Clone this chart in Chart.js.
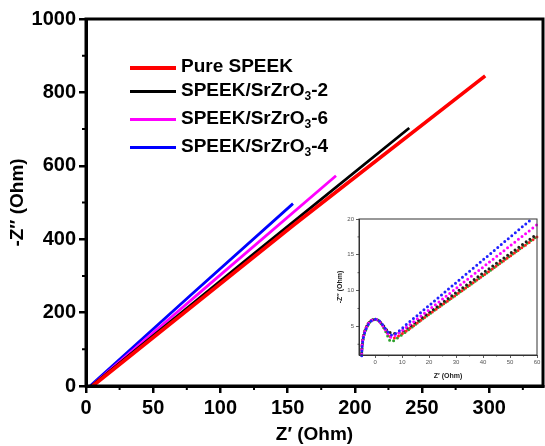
<!DOCTYPE html>
<html>
<head>
<meta charset="utf-8">
<script src="https://cdn.jsdelivr.net/npm/chart.js@4"></script>
<style>
  body { margin: 0; background: #fff; }
  #wrap { position: relative; width: 545px; height: 446px; font-family: "Liberation Sans", Arial, sans-serif; }
  #main { position: absolute; left: 0; top: 0; }
  #inset { position: absolute; left: 330px; top: 205px; }
  .leg { position: absolute; left: 130px; font-weight: bold; font-size: 19px; color: #000; white-space: nowrap; }
  .leg span.ln { position: absolute; left: 0; width: 46px; height: 3px; }
  .leg span.tx { position: absolute; left: 51px; top: -11px; }
  sub { font-size: 12px; vertical-align: -4px; line-height: 0; }
</style>
</head>
<body>
<div id="wrap">
  <canvas id="main" width="545" height="446"></canvas>
  <canvas id="inset" width="215" height="175"></canvas>
  <div id="legend"></div>
</div>
<script>
// series names and colours
const seriesNames = ['Pure SPEEK', 'SPEEK/SrZrO<sub>3</sub>-2', 'SPEEK/SrZrO<sub>3</sub>-6', 'SPEEK/SrZrO<sub>3</sub>-4'];
const seriesPlain = ['Pure SPEEK', 'SPEEK/SrZrO3-2', 'SPEEK/SrZrO3-6', 'SPEEK/SrZrO3-4'];
const seriesColors = ['#ff0000', '#000000', '#ff00ff', '#0000ff'];

// main plot: Z' vs -Z'' (Ohm)
const pureSpeek = [[5, 0], [155, 440], [297, 845]];
const speek2 = [[4, 0], [122, 352], [240.5, 703]];
const speek6 = [[4, 0], [95, 287], [186, 573]];
const speek4 = [[3, 0], [78, 248], [154, 497]];

const xTicks = [0, 50, 100, 150, 200, 250, 300];
const xMinor = [25, 75, 125, 175, 225, 275, 325];
const yTicks = [0, 200, 400, 600, 800, 1000];
const yMinor = [100, 300, 500, 700, 900];

// inset: zoom on the high-frequency arc
const insetRed = [[-5, 1], [-4.9, 2.4], [-4.3, 3.8], [-3.3, 4.9], [-2.2, 5.6], [-1, 5.95], [0, 6], [1.2, 5.8], [2.4, 5.3], [3.5, 4.7], [4.5, 4.1], [5.5, 3.6], [7.5, 3.4], [20, 6.7], [40, 12.1], [60, 17.5]];
const insetBlack = [[-5, 1.2], [-4.8, 2.5], [-4.2, 3.9], [-3.2, 5], [-2.1, 5.6], [-1, 5.9], [0, 6], [1.2, 5.8], [2.4, 5.4], [3.5, 4.9], [4.5, 4.4], [5.8, 4.1], [7, 4.0], [10, 4.3], [35, 11.1], [60, 17.9]];
const insetMagenta = [[-5, 1.1], [-4.8, 2.5], [-4.2, 3.8], [-3.2, 4.9], [-2.1, 5.6], [-1, 5.9], [0, 6], [1.2, 5.8], [2.4, 5.3], [3.5, 4.7], [4.5, 4.1], [6, 3.5], [12, 5.0], [36, 12.1], [60, 19.2]];
const insetBlue = [[-5, 0.9], [-4.8, 2.3], [-4.2, 3.7], [-3.2, 4.8], [-2.1, 5.5], [-1, 5.9], [0.3, 6], [1.4, 5.8], [2.6, 5.3], [3.7, 4.7], [4.8, 4.2], [6.5, 3.8], [12, 5.4], [35, 12.7], [58, 20]];
const insetGreen = [[-5, 1.3], [-4.7, 2.6], [-4, 3.9], [-3, 4.9], [-2, 5.6], [-0.8, 5.9], [0.2, 5.95], [1.3, 5.8], [2.5, 5.2], [3.6, 4.5], [4.7, 3.6], [5.8, 2.9], [8, 3.3], [20, 6.7], [40, 12.1], [60, 17.6]];
const insetXTicks = [0, 10, 20, 30, 40, 50, 60];
const insetYTicks = [5, 10, 15, 20];

const pts = arr => arr.map(p => ({ x: p[0], y: p[1] }));

// legend with subscripts
const legRows = [67, 91, 119, 147];
document.getElementById('legend').innerHTML = seriesNames.map((n, i) =>
  '<div class="leg" style="top:' + (legRows[i] - 1) + 'px"><span class="ln" style="background:' + seriesColors[i] + ';height:' + (i === 0 ? 4 : 3) + 'px"></span><span class="tx">' + n + '</span></div>'
).join('');

const framePlugin = {
  id: 'frame',
  afterDatasetsDraw(chart, args, opts) {
    const a = chart.chartArea, ctx = chart.ctx;
    ctx.save();
    ctx.strokeStyle = opts.color;
    ctx.lineWidth = opts.width;
    ctx.strokeRect(a.left, a.top, a.right - a.left, a.bottom - a.top);
    // minor ticks
    const xs = chart.scales.x, ys = chart.scales.y;
    ctx.lineWidth = opts.minorWidth;
    ctx.beginPath();
    (opts.xMinor || []).forEach(v => {
      const px = xs.getPixelForValue(v);
      ctx.moveTo(px, a.bottom); ctx.lineTo(px, a.bottom + opts.minorLen);
    });
    (opts.yMinor || []).forEach(v => {
      const py = ys.getPixelForValue(v);
      ctx.moveTo(a.left, py); ctx.lineTo(a.left - opts.minorLen, py);
    });
    ctx.stroke();
    ctx.restore();
  }
};

const plain = v => String(v);

const mainSets = [pureSpeek, speek2, speek6, speek4];
new Chart(document.getElementById('main'), {
  type: 'scatter',
  data: {
    datasets: mainSets.map((d, i) => ({
      label: seriesPlain[i],
      data: pts(d),
      showLine: true,
      borderColor: seriesColors[i],
      backgroundColor: seriesColors[i],
      borderWidth: i === 0 ? 3.6 : 2.8,
      pointRadius: 0,
      tension: 0
    }))
  },
  options: {
    responsive: false,
    animation: false,
    events: [],
    layout: { padding: { left: 0, top: 19, right: 2, bottom: 0 } },
    plugins: {
      legend: { display: false },
      tooltip: { enabled: false },
      frame: { color: '#000', width: 3, minorWidth: 2, minorLen: 4, xMinor: xMinor, yMinor: yMinor }
    },
    scales: {
      x: {
        type: 'linear', min: 0, max: 340,
        afterBuildTicks: s => { s.ticks = xTicks.map(v => ({ value: v })); },
        afterFit: s => { s.height = 60; },
        grid: { display: true, drawOnChartArea: false, color: '#000', lineWidth: 2.5, tickLength: 7 },
        border: { display: true, color: '#000', width: 3 },
        ticks: { color: '#000', font: { family: 'Liberation Sans', size: 20, weight: 'bold' }, padding: 3, maxRotation: 0, callback: plain },
        title: { display: true, text: 'Z\u2032 (Ohm)', color: '#000', font: { family: 'Liberation Sans', size: 19, weight: 'bold' }, padding: { top: 3, bottom: 0 } }
      },
      y: {
        type: 'linear', min: 0, max: 1000,
        afterBuildTicks: s => { s.ticks = yTicks.map(v => ({ value: v })); },
        afterFit: s => { s.width = 86; },
        grid: { display: true, drawOnChartArea: false, color: '#000', lineWidth: 2.5, tickLength: 7 },
        border: { display: true, color: '#000', width: 3 },
        ticks: { color: '#000', font: { family: 'Liberation Sans', size: 20, weight: 'bold' }, padding: 3, callback: plain },
        title: { display: true, text: '-Z\u2033 (Ohm)', color: '#000', font: { family: 'Liberation Sans', size: 19, weight: 'bold' }, padding: { top: 6, bottom: 4 } }
      }
    }
  },
  plugins: [framePlugin]
});

const insetSets = [insetGreen, insetRed, insetBlack, insetMagenta, insetBlue];
const insetColors = ['#2ca02c', '#ff2020', '#202020', '#ff00ff', '#2020ff'];
new Chart(document.getElementById('inset'), {
  type: 'scatter',
  data: {
    datasets: insetSets.map((d, i) => ({
      data: pts(d),
      showLine: true,
      borderColor: insetColors[i],
      borderWidth: 3,
      borderDash: [0, 4.6],
      borderCapStyle: 'round',
      pointRadius: 0,
      tension: 0.35,
      order: insetSets.length - i
    }))
  },
  options: {
    responsive: false,
    animation: false,
    events: [],
    clip: false,
    layout: { padding: { left: 0, top: 14, right: 8, bottom: 0 } },
    plugins: {
      legend: { display: false },
      tooltip: { enabled: false },
      frame: { color: '#333', width: 1, minorWidth: 0.8, minorLen: 1.5, xMinor: [5, 15, 25, 35, 45, 55], yMinor: [2.5, 7.5, 12.5, 17.5] }
    },
    scales: {
      x: {
        type: 'linear', min: -6, max: 60,
        afterBuildTicks: s => { s.ticks = insetXTicks.map(v => ({ value: v })); },
        afterFit: s => { s.height = 25; },
        grid: { display: true, drawOnChartArea: false, color: '#333', lineWidth: 0.8, tickLength: 3 },
        border: { display: true, color: '#333', width: 1 },
        ticks: { color: '#555', font: { family: 'Liberation Sans', size: 6 }, padding: 1, maxRotation: 0 },
        title: { display: true, text: 'Z\u2032 (Ohm)', color: '#222', font: { family: 'Liberation Sans', size: 7, weight: 'bold' }, padding: { top: 1, bottom: 0 } }
      },
      y: {
        type: 'linear', min: 1, max: 20,
        afterBuildTicks: s => { s.ticks = insetYTicks.map(v => ({ value: v })); },
        afterFit: s => { s.width = 29; },
        grid: { display: true, drawOnChartArea: false, color: '#333', lineWidth: 0.8, tickLength: 3 },
        border: { display: true, color: '#333', width: 1 },
        ticks: { color: '#555', font: { family: 'Liberation Sans', size: 6 }, padding: 2 },
        title: { display: true, text: '-Z\u2033 (Ohm)', color: '#222', font: { family: 'Liberation Sans', size: 7, weight: 'bold' }, padding: { top: 6, bottom: 2 } }
      }
    }
  },
  plugins: [framePlugin]
});
</script>
</body>
</html>
